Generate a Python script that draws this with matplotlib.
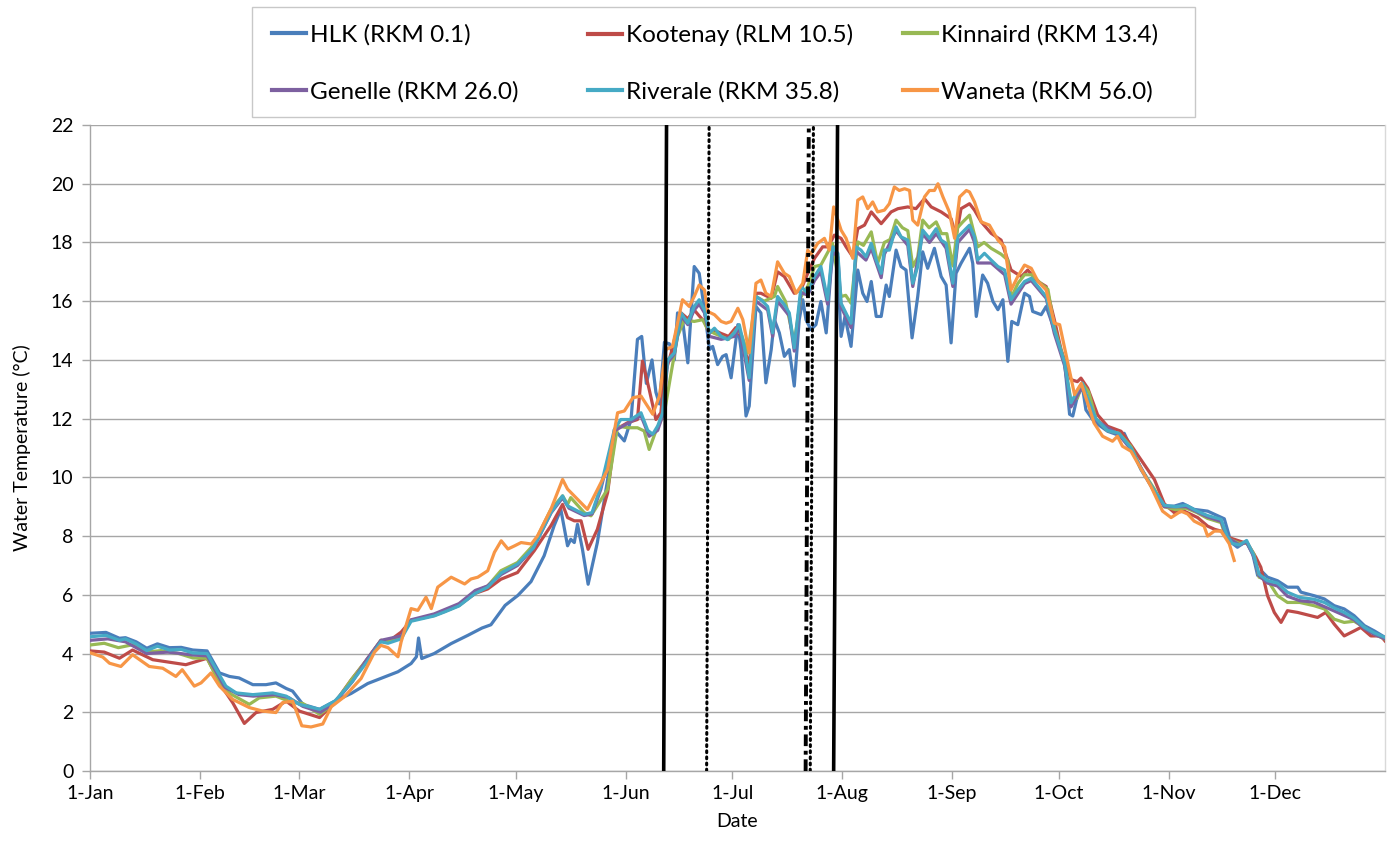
import matplotlib
matplotlib.use("Agg")
import matplotlib.pyplot as plt
from matplotlib.patches import Rectangle
import numpy as np

plt.rcParams['font.family'] = ['Lato', 'DejaVu Sans']

# ---------------- data (day of year, 0 = 1-Jan) ----------------
month_days = [0, 31, 59, 90, 120, 151, 181, 212, 243, 273, 304, 334]
month_labels = ['1-Jan', '1-Feb', '1-Mar', '1-Apr', '1-May', '1-Jun',
                '1-Jul', '1-Aug', '1-Sep', '1-Oct', '1-Nov', '1-Dec']

hlk_days = [0,4.5,8.3,10,13,16,19,22.4,25.7,29,33,36.5,39.3,42,45.9,49.6,52.4,55.3,57.1,60,64.7,69,
            73.6,78.3,83,86.8,90.5,92,92.6,93.5,97,101.8,106.5,110.5,113,117,120.6,124.3,128,130.8,132.7,
            134.6,135.5,136.5,137.4,138.8,140.4,143,145.9,147.8,150.6,152.5,154.3,155.5,156.8,158.4,159.5,
            160.5,161.9,163.3,164.7,165.6,167,168.5,170.3,171.7,173.2,174.6,175.5,176.9,178.3,179.3,180.7,
            182.6,183.5,184.9,185.8,187.7,189.1,190.5,192,192.9,194.3,195.7,197.1,198.5,199.9,200.9,201.8,
            203.2,204.6,206,207.5,208.9,209.8,210.8,211.7,212.8,214.5,216.4,217.8,219,220.2,221.6,223,224.4,
            225.3,227.2,228.6,230,231.7,233.3,234.7,236.1,238,239.9,241.3,242.7,244.1,245.5,247.9,248.8,
            249.8,251.6,253,254.5,255.9,257.3,258.7,259.8,261.5,263.4,264.8,265.7,268.1,269.5,271.8,274.7,
            276.1,277,278.3,279.7,280.7,283,286.8,289.6,291.5,293.4,296.2,300,302.8,305.6,308,311.2,315,
            319.7,321.6,323.4,325.8,327.7,329.1,330.5,331.9,334.7,337.5,340.4,341.3,345,347.9,350.7,353.5,
            356.3,359.2,362,365]
hlk_temp = [4.69,4.72,4.52,4.54,4.4,4.18,4.33,4.2,4.21,4.12,4.09,3.34,3.22,3.17,2.94,2.94,3.0,2.81,2.72,2.27,2.1,2.38,
            2.64,2.98,3.2,3.38,3.66,3.89,4.53,3.83,4.0,4.34,4.62,4.87,4.98,5.64,5.98,6.45,7.33,8.35,8.91,
            7.67,7.89,7.78,8.4,7.55,6.36,7.78,9.93,11.63,11.24,11.97,14.7,14.8,13.2,14.0,12.9,
            12.5,14.6,14.55,14.0,15.6,15.37,13.9,17.18,16.95,15.7,14.35,14.46,13.84,14.12,14.18,13.39,
            15.2,14.35,12.09,12.43,15.82,15.6,13.22,14.35,15.37,14.92,14.12,14.35,13.11,15.37,16.05,15.37,
            15.03,15.2,15.99,14.92,17.12,17.85,16.84,14.8,15.48,14.46,17.06,16.27,15.99,16.67,15.48,15.48,16.55,
            16.16,17.74,17.18,17.06,14.75,16.16,17.68,17.12,17.8,16.84,16.55,14.58,16.95,17.29,17.8,17.29,
            15.48,16.89,16.61,15.99,15.71,16.05,13.95,15.31,15.2,16.27,16.16,15.65,15.54,15.82,15.03,13.9,
            12.15,12.09,12.76,13.1,12.3,11.9,11.57,11.45,11.5,11.0,10.27,9.53,9.02,9.02,9.11,8.91,8.85,
            8.59,7.79,7.62,7.82,7.4,6.66,6.77,6.6,6.48,6.26,6.26,6.09,5.97,5.86,5.63,5.52,
            5.29,4.95,4.77,4.55]

koot_days = [0,4,8.3,12,17.7,27,33,37.4,40.2,43.5,46.8,51.5,55.3,59,64.7,69,
             73.6,78.3,82,84,87.7,90.5,97,100,104,108.6,112.1,115.8,120.5,125.2,129.9,133.2,134.6,136.5,
             138.4,140.4,143,145.9,148.2,151.5,154.3,155.7,157.6,159.5,160.9,161.9,163.8,166.6,168.5,170.3,
             171.7,173.2,174.6,176.2,177.9,180,182,183.5,185.8,187.7,189.1,192,193.8,195.7,198.5,200.4,202.3,
             204.2,206.5,208,209.8,211.7,213.1,215,216.4,218.3,220.2,223,225.8,227.7,230.5,232.8,235.2,237.1,
             239.9,242.7,244.1,245.5,247.9,249.3,251.2,254,256.8,259.6,262.5,264.3,267.2,269.5,271.8,273.7,
             276.5,278.3,279.3,281.2,284,286.8,290.6,293.4,300,302.8,305.6,308.4,312.2,315,317,318.8,320,322,
             326.3,328.6,330,331.9,333.8,335.7,337.5,340.4,344.1,346,348.3,350.7,353.5,356.3,358.2,361,363.8,365]
koot_temp = [4.09,4.05,3.84,4.12,3.79,3.62,3.84,2.83,2.33,1.62,1.99,2.1,2.38,2.04,1.82,2.33,
             3.1,3.83,4.45,4.4,4.73,5.13,5.3,5.44,5.64,6.05,6.2,6.53,6.76,7.5,8.35,9.08,8.63,8.52,
             8.52,7.55,8.23,9.48,11.63,11.86,11.97,13.96,13.0,11.97,12.2,13.45,14.24,15.6,15.4,15.7,
             15.5,15.3,14.92,15.0,14.9,14.8,15.1,14.8,13.8,16.27,16.27,16.1,17.0,16.84,16.27,16.4,16.95,
             17.46,17.85,17.85,18.25,18.14,17.85,17.51,18.47,18.59,19.04,18.64,19.04,19.15,19.21,19.15,19.49,19.21,
             19.04,18.81,18.19,19.15,19.32,19.1,18.7,18.31,18.08,17.06,16.84,17.06,16.67,16.5,15.37,14.35,
             13.33,13.26,13.38,13.04,12.13,11.74,11.57,11.1,9.93,9.1,8.8,8.85,8.63,8.34,8.23,8.17,8.0,7.91,
             7.74,7.28,6.94,5.97,5.4,5.06,5.46,5.4,5.29,5.23,5.4,5.0,4.6,4.77,4.89,4.6,4.6,4.43]

kinn_days = [0,4,8,12,16,20,25,29,33,37.2,40,44.9,47.7,52.4,57.1,60,64.7,69,
             73.6,78.3,82,84,87.7,90.5,97,100,104,108.6,112.1,115.8,120.5,125,129.9,133.2,134.6,135.5,139.3,
             141.2,145.9,148.7,151.5,154.3,156.2,157.6,159.5,161.9,163.8,165.6,167.5,170.3,172.7,174.1,176,178,
             180,182,183.5,185.4,187.7,190,192.9,193.8,196,198.5,200.4,202.3,204.2,206,209.3,211.7,
             213,214.5,216.4,218,220.2,222,223.9,225.5,227.2,229,230.5,231.9,233.3,234.7,236.5,238.5,240,241.5,
             243.2,244.5,246,247.9,249,250.2,252,254,256.8,258.7,259.6,261.5,263.4,265.5,268,270,271.8,274.7,
             276.5,278.3,279.7,281.5,283.5,286.8,290,293.4,296.2,300,302.8,306,309,312,315,318.8,320,322,324,326,
             328,329.5,331.9,334.7,337.5,341,345,347.9,350.7,353.5,356.3,359.2,362,365]
kinn_temp = [4.29,4.35,4.2,4.3,4.05,4.1,4.0,3.85,3.84,2.83,2.6,2.27,2.49,2.55,2.33,2.3,1.93,2.3,
             3.1,3.83,4.45,4.4,4.56,5.13,5.3,5.44,5.64,6.09,6.3,6.82,7.1,7.7,8.91,9.37,9.08,9.31,8.8,
             8.69,9.6,11.75,11.69,11.69,11.58,10.95,11.58,12.2,13.56,14.8,15.37,15.31,15.37,15.03,14.9,14.8,
             14.7,15.0,14.9,14.24,16.16,16.0,16.16,16.5,16.0,14.6,16.16,16.5,17.18,17.23,17.97,16.16,
             16.2,15.93,18.02,17.9,18.36,17.29,18.0,18.1,18.76,18.5,18.4,17.18,17.5,18.76,18.5,18.7,18.3,18.3,
             17.2,18.5,18.7,18.93,18.4,17.85,18.0,17.8,17.6,17.4,16.1,16.6,16.9,16.9,16.6,16.4,15.1,13.9,
             12.6,12.7,13.2,12.9,12.0,11.6,11.5,11.05,10.3,9.6,9.0,8.9,8.95,8.8,8.6,8.46,8.0,7.85,7.75,7.78,
             7.4,6.6,6.5,5.97,5.74,5.74,5.63,5.52,5.17,5.06,5.1,4.89,4.66,4.49]

gen_days = [0,5,10,16,22,29,33,38,42,46,52,56,60,65,69,74,78,82,87.7,90.5,97,104,108.6,112,116,120.5,125,
            130,133.2,135,139.3,141.5,144,148,152.5,155.3,157.6,160,161.4,162.8,164.7,166.6,168.5,170.3,171.7,
            173.2,174.6,177.9,181.6,183,185.8,187.7,191,192.4,193.8,197.1,198.5,200.4,202.3,204.2,206,207.9,
            209.3,210.8,211.7,214.5,215.9,218.7,220.2,223,223.9,227.2,230.5,231.9,234.7,236.6,238.5,241.3,243.2,
            244.6,247.9,249.3,250.2,254,257.8,259.6,263.4,265.3,269.5,271.8,274.7,276.5,279.7,281.5,283.5,290,
            293.4,300,302.8,309,315,318.8,320.5,324,326,328,329.5,331.9,334.7,337.5,341,345,350.7,353.5,356.3,
            359.2,362,365]
gen_temp = [4.45,4.5,4.4,4.0,4.05,3.95,3.92,2.85,2.6,2.55,2.6,2.5,2.2,2.0,2.33,3.05,3.8,4.45,4.6,5.15,5.35,5.7,
            6.15,6.3,6.7,7.0,7.6,8.8,9.3,8.95,8.7,8.75,9.6,11.6,11.9,12.1,11.4,11.6,12.1,13.9,14.2,15.5,15.2,
            15.7,15.9,15.6,14.8,14.7,14.8,15.1,13.3,16.0,15.7,14.8,16.0,15.5,14.3,16.3,16.2,16.7,17.0,15.9,
            17.7,17.5,15.8,15.1,17.7,17.4,17.8,16.8,17.6,18.4,17.9,16.5,18.3,18.0,18.3,17.8,16.5,
            18.0,18.45,18.0,17.3,17.3,16.9,15.9,16.6,16.7,16.1,14.9,13.8,12.4,13.1,12.5,11.95,11.45,
            10.95,9.5,9.0,9.0,8.65,8.5,7.95,7.7,7.8,7.3,6.65,6.4,6.3,5.95,5.8,5.75,5.45,5.3,5.15,
            4.85,4.65,4.5]

riv_days = [0,4.5,8.3,10,13,16,19,22.4,25.7,29,33,38.3,41.2,45.9,51.5,55.3,59,64.7,69,
            73.6,78.3,82,84,87.7,90.5,97,100,104,108.6,112.1,116,120.5,125,129.9,133.2,134.6,139.3,141.5,144,
            147.8,149.6,152.5,155.3,157.2,158.6,160,161.4,162.8,164.7,166.6,168.5,170.3,171.7,173.2,174.6,176,
            177.9,179.7,181.6,183,184.4,185.8,187.7,189.1,191,192.4,193.8,195.7,197.1,198.5,200.4,202.3,204.2,
            206,207.9,209.3,210.8,211.7,213.1,214.5,215.9,217.3,218.7,220.2,221.6,223,223.9,225.3,227.2,228.6,
            230.5,231.9,233.3,234.7,236.6,238.5,239.9,241.3,243.2,244.6,246,247.9,249.3,250.2,252.1,254,255.9,
            257.8,259.6,261.5,263.4,265.3,267.2,269.5,271.8,274.7,276.5,278.5,279.7,281.5,283.5,286.8,290,293.4,
            296.2,300,302.8,306,309,312,315,318.8,320.5,322,324,326,328,329.5,331.9,334.7,337.5,341,345,347.9,
            350.7,353.5,356.3,359.2,362,365]
riv_temp = [4.57,4.62,4.45,4.5,4.33,4.1,4.25,4.12,4.14,4.02,4.0,2.89,2.66,2.6,2.66,2.55,2.27,2.1,2.38,
            3.0,3.75,4.4,4.35,4.5,5.1,5.28,5.42,5.62,6.05,6.26,6.75,7.05,7.6,8.8,9.37,9.03,8.74,8.8,9.7,
            11.63,11.97,11.97,12.2,11.6,11.47,11.75,12.2,14.0,14.24,15.6,15.25,15.82,16.05,15.7,14.92,15.08,
            14.8,14.69,14.92,15.2,14.46,13.39,16.16,16.05,15.82,14.92,16.16,15.88,15.6,14.41,16.5,16.27,16.84,
            17.18,16.05,17.85,17.63,15.93,15.59,15.25,17.85,17.74,17.51,17.97,17.4,16.95,17.74,17.74,18.53,18.19,
            18.08,16.61,17.18,18.42,18.14,18.47,18.08,17.97,16.61,18.19,18.36,18.59,18.19,17.4,17.63,17.4,17.18,
            17.06,16.05,16.38,16.67,16.78,16.5,16.16,15.03,13.9,12.54,13.0,13.21,12.6,12.0,11.6,11.5,11.0,
            10.3,9.55,9.05,9.0,9.05,8.85,8.7,8.57,8.0,7.75,7.7,7.85,7.35,6.7,6.48,6.4,6.09,5.91,5.85,5.74,
            5.55,5.4,5.2,4.89,4.7,4.55]

wan_days = [0,3.6,5.5,8.7,12,16.7,20.5,24.2,26,29.4,31.3,34.1,36.5,40.2,44.9,48.7,52.4,54.3,57.1,59.7,
            62.3,65.6,68,68.9,71.7,76.4,80.2,82,84,86.8,87.7,90.5,92.4,94.7,96.2,98,101.8,105.6,107.4,109.3,
            112.1,114,115.9,117.8,119.7,121.5,124.4,126.1,129.9,133.2,134.6,140.2,144,145.9,148.7,150.6,153,
            155.3,158.6,160.5,162.3,164.2,165.6,167,168.9,170.3,171.7,173.2,174.1,176,177.9,179.3,180.7,182.6,
            184,185.8,187.7,189.1,190.5,192,193.8,195.7,197.1,199,200.9,202.3,203.2,205.1,207,208.4,209.6,
            211.7,213.1,215,216.4,217.8,219.2,220.6,222,223.9,225.3,226.7,228.1,229.6,231,231.9,233.3,235.2,
            236.6,238,239,240.4,242.2,243.7,245.1,247,247.9,249.3,251.2,253.5,255.9,257.8,259.6,261.5,263.4,
            265.3,267.2,269.5,271.8,273.3,275.6,277.5,279.4,283,285.4,288.2,289.6,291,293.4,299,302.3,304.7,
            307.5,309.4,311.2,314,315,316.9,318.8,321.1,322.5]
wan_temp = [4.03,3.88,3.67,3.56,3.96,3.56,3.5,3.22,3.45,2.89,3.0,3.34,2.89,2.44,2.16,2.04,1.99,2.33,2.38,1.54,
            1.5,1.6,2.19,2.27,2.53,3.15,4.05,4.28,4.2,3.89,4.4,5.53,5.47,5.92,5.53,6.26,6.6,6.37,6.54,6.6,
            6.82,7.45,7.84,7.56,7.67,7.78,7.73,8.0,8.91,9.93,9.6,8.91,9.82,10.27,12.2,12.26,12.71,
            12.77,12.15,12.77,14.35,14.46,15.25,16.05,15.82,16.16,16.55,16.38,15.65,15.54,15.31,15.25,15.31,15.76,
            15.37,14.24,16.61,16.72,16.27,16.16,17.34,16.95,16.84,16.27,16.61,17.74,17.6,17.97,18.14,17.74,19.21,
            18.42,18.14,17.46,19.44,19.55,19.15,19.38,19.04,19.1,19.32,19.89,19.77,19.83,19.77,18.76,18.59,19.55,
            19.77,19.77,20.0,19.55,19.04,18.14,19.55,19.77,19.72,19.38,18.7,18.59,18.08,17.85,16.38,16.84,17.23,
            17.12,16.67,16.38,15.25,15.2,13.9,12.82,13.2,11.85,11.4,11.23,11.4,11.06,10.89,9.7,8.85,8.63,
            8.85,8.75,8.51,8.34,8.0,8.17,8.17,7.74,7.17]

series_names = ['HLK (RKM 0.1)', 'Kootenay (RLM 10.5)', 'Kinnaird (RKM 13.4)',
                'Genelle (RKM 26.0)', 'Riverale (RKM 35.8)', 'Waneta (RKM 56.0)']

# event lines: (day at bottom, day at top)
event_days = [(161.7, 162.5), (173.8, 174.5), (201.7, 202.6), (203.0, 203.9), (209.6, 210.7)]
event_styles = ['solid', 'dotted', 'dashdot', 'dotted', 'solid']

# ---------------- drawing ----------------
W, H = 1388, 850
colors = ['#4A7EBB', '#BE4B48', '#98B954', '#7D60A0', '#46AAC5', '#F79646']
fig = plt.figure(figsize=(W / 100, H / 100), dpi=100)
ax = fig.add_axes([90/W, 1-771/H, (1385-90)/W, (771-125)/H])

data = [(hlk_days, hlk_temp), (koot_days, koot_temp), (kinn_days, kinn_temp),
        (gen_days, gen_temp), (riv_days, riv_temp), (wan_days, wan_temp)]
lines = []
for (d, t), c, n in zip(data, colors, series_names):
    ln, = ax.plot(d, t, color=c, lw=2.3, label=n, solid_joinstyle='round', zorder=3)
    lines.append(ln)

ymax = 22
for (d0, d1), st in zip(event_days, event_styles):
    if st == 'solid':
        ax.plot([d0, d1], [0, ymax], color='black', lw=2.6, zorder=4)
    elif st == 'dotted':
        ax.plot([d0, d1], [0, ymax], color='black', lw=2.2, linestyle=(0, (0.6, 1.4)),
                dash_capstyle='round', zorder=4)
    else:
        ax.plot([d0, d1], [0, ymax], color='black', lw=2.8, linestyle=(0, (3.0, 1.2, 1.0, 1.2)), zorder=4)

ax.set_xlim(0, 365)
ax.set_ylim(0, 22)
ax.set_yticks(range(0, 23, 2))
ax.set_xticks(month_days)
ax.set_xticklabels(month_labels)
ax.grid(axis='y', color='#A6A6A6', lw=1.0, zorder=0)
ax.set_axisbelow(True)
ax.spines['top'].set_visible(False)
for s in ['left', 'bottom', 'right']:
    ax.spines[s].set_color('#A6A6A6')
    ax.spines[s].set_linewidth(1.0)
ax.spines['right'].set_color('#D9D9D9')
ax.tick_params(axis='both', colors='#A6A6A6', labelcolor='black', labelsize=14, length=6, width=1.0,
               direction='out')
ax.tick_params(axis='y', pad=6)
ax.tick_params(axis='x', pad=4)
ax.set_ylabel('Water Temperature (°C)', fontsize=14, labelpad=14)
ax.set_xlabel('Date', fontsize=14, labelpad=8)

# legend: frame + three columns of two entries each
fig.add_artist(Rectangle((252/W, 1-117/H), (1195-252)/W, (117-7)/H, transform=fig.transFigure,
                         facecolor='white', edgecolor='#C8C8C8', lw=1.0, zorder=5))
columns = [[0, 3], [1, 4], [2, 5]]
col_x = [272, 588, 903]
for idx, x0 in zip(columns, col_x):
    lg = fig.legend([lines[i] for i in idx], [series_names[i] for i in idx], ncol=1,
                    loc='upper left', bbox_to_anchor=(x0/W, 1-24/H), fontsize=17.5,
                    frameon=False, handlelength=1.4, handletextpad=0.17,
                    labelspacing=1.45, borderpad=0, borderaxespad=0)
    lg.set_zorder(6)
    for h in lg.legend_handles:
        h.set_linewidth(3.0)

fig.savefig('out.png', dpi=100)
